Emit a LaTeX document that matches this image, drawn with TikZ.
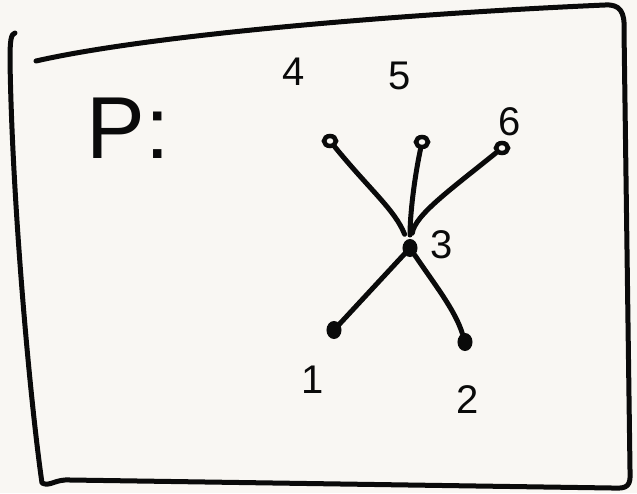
\documentclass[tikz,border=0pt]{standalone}
\usepackage{fontspec}
\usetikzlibrary{shapes.geometric}
\setmainfont{Liberation Sans}
\definecolor{paper}{HTML}{F9F7F3}
\definecolor{ink}{HTML}{0A0A0A}
\begin{document}
\begin{tikzpicture}[x=1pt,y=-1pt,
  frame/.style={draw=ink,line width=5pt,line cap=round,line join=round},
  edge/.style={draw=ink,line width=5pt,line cap=round},
  opendot/.style={ellipse,draw=ink,fill=paper,line width=4.5pt,minimum width=12pt,minimum height=10pt,inner sep=0pt},
  fulldot/.style={ellipse,draw=ink,fill=ink,line width=2pt,minimum width=13pt,minimum height=16pt,inner sep=0pt},
  lbl/.style={font=\fontsize{40}{40}\selectfont,text=ink,inner sep=0pt}]
\fill[paper] (0,0) rectangle (637,493);
\useasboundingbox (0,0) rectangle (637,493);
% frame
\draw[frame] (36,61) .. controls (150,35) and (400,14) .. (605,5)
  .. controls (620,4) and (625,12) .. (624,30)
  -- (630,470) .. controls (631,486) and (628,489) .. (612,488)
  -- (70,480) .. controls (55,479) and (50,487) .. (42,483)
  .. controls (30,400) and (12,200) .. (10,60)
  .. controls (10,40) and (11,34) .. (15,33);
% title
\node[font=\fontsize{88}{88}\selectfont,text=ink,inner sep=0pt] (title) at (128,128) {P:};
% nodes
\node[opendot] (n4) at (330,141) {};
\node[opendot] (n5) at (422,142) {};
\node[opendot] (n6) at (502,148) {};
\node[fulldot] (n3) at (410,248) {};
\node[fulldot] (n1) at (334,330) {};
\node[fulldot] (n2) at (465,342) {};
% labels
\node[lbl] (l4) at (294,72) {4};
\node[lbl] (l5) at (400,76) {5};
\node[lbl] (l6) at (510,122) {6};
\node[lbl] (l3) at (442,245) {3};
\node[lbl] (l1) at (313,380) {1};
\node[lbl] (l2) at (468,400) {2};
% edges
\draw[edge,shorten >=6pt] (n4) .. controls (370,190) and (395,210) .. (n3);
\draw[edge,shorten >=4pt] (n5) .. controls (414,180) and (410,215) .. (n3);
\draw[edge,shorten >=6pt] (n6) .. controls (450,190) and (415,215) .. (n3);
\draw[edge] (n3) -- (n1);
\draw[edge] (n3) .. controls (435,285) and (455,310) .. (n2);
\end{tikzpicture}
\end{document}
